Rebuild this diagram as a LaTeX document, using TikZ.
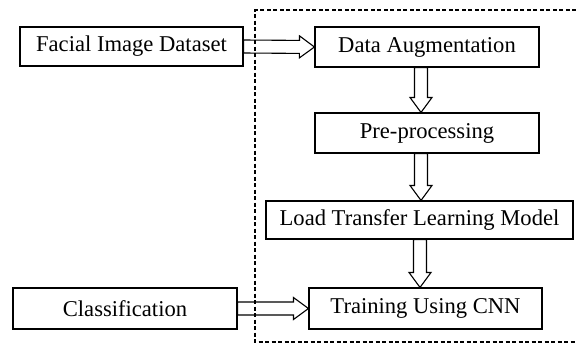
\documentclass[tikz,border=0pt]{standalone}
\usepackage{fontspec}
\setmainfont{Liberation Serif}
\usetikzlibrary{calc}

\tikzset{
  stage/.style={draw, line width=1.1pt, inner sep=0pt, minimum width=224pt,
                minimum height=40pt, font=\fontsize{22.6}{27}\selectfont},
  frame/.style={line width=1.1pt, dash pattern=on 4pt off 2.5pt},
  hollow/.style={line width=1.1pt, line join=miter, to path={
      let \p1=($(\tikztotarget)!15pt!(\tikztostart)$) in
      ($(\tikztostart)!6.5pt!90:(\tikztotarget)$)
      -- ($(\p1)!6.5pt!-90:(\tikztostart)$) -- ($(\p1)!11pt!-90:(\tikztostart)$)
      -- (\tikztotarget)
      -- ($(\p1)!11pt!90:(\tikztostart)$) -- ($(\p1)!6.5pt!90:(\tikztostart)$)
      -- ($(\tikztostart)!6.5pt!-90:(\tikztotarget)$) -- cycle}}
}

\begin{document}
\begin{tikzpicture}[x=1pt,y=-1pt]
    \useasboundingbox (0,0) rectangle (576,343);

    \draw[frame] (576,10) -- (255,10) -- (255,342) -- (576,342);

    \node[stage, minimum width=223pt, minimum height=39pt] (fid) at (131.5,46.5) {Facial Image Dataset};
    \node[stage] (aug) at (427,47) {Data Augmentation};
    \node[stage] (pre) at (427,133) {Pre-processing};
    \node[stage, minimum width=307pt, minimum height=38pt] (load) at (419.5,220) {Load Transfer Learning Model};
    \node[stage, minimum height=41pt] (cls) at (125,308.5) {Classification};
    \node[stage, minimum width=233pt, minimum height=41pt] (cnn) at (425.5,308.5) {Training Using CNN};

    \draw[hollow] (fid.east) to (aug.west);
    \draw[hollow] ([xshift=-6pt]aug.south) to ([xshift=-6pt]pre.north);
    \draw[hollow] ([xshift=1.5pt]pre.south -| load.north) to ([xshift=1.5pt]load.north);
    \draw[hollow] ([xshift=0.5pt]load.south) to ([xshift=-5.5pt]cnn.north);
    \draw[hollow] (cls.east) to (cnn.west);

\end{tikzpicture}
\end{document}
